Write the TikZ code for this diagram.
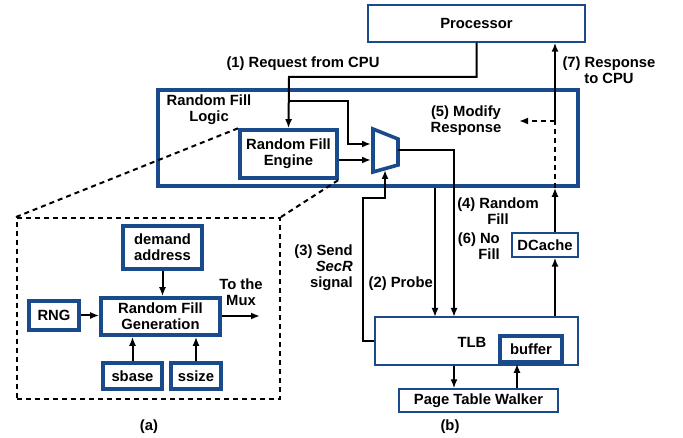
\documentclass[tikz,border=0pt]{standalone}
\usepackage{fontspec}
\setmainfont{Liberation Sans}
\usetikzlibrary{arrows.meta,positioning,calc}
\definecolor{boxblue}{RGB}{24,74,140}
\tikzset{
  blk/.style    = {draw=boxblue, line width=1.3pt, inner sep=0pt, align=center},
  blkthk/.style = {blk, line width=3.6pt},
  arr/.style    = {-{Latex[length=9pt,width=7pt]}, line width=2pt},
  dsh/.style    = {line width=2pt, dash pattern=on 5pt off 4pt},
  lbl/.style    = {inner sep=0pt, align=center},
}

\begin{document}
\begin{tikzpicture}[x=1pt, y=-1pt,
    every node/.style={font=\fontsize{14.8}{16}\selectfont\bfseries}]
  \useasboundingbox (0,0) rectangle (683,438);
  % system side
  \node[blk, minimum width=217, minimum height=37] (proc) at (476.5,23.5) {Processor};
  \node[blkthk, minimum width=420, minimum height=96] (rfl) at (368,138) {};
  \node[lbl] (rfltxt) at (209,110) {Random Fill\\Logic};
  \node[blkthk, minimum width=97, minimum height=48] (eng) at (288.5,154) {Random Fill\\Engine};
  \node[blk, minimum width=66, minimum height=24] (dcache) at (545,245) {DCache};
  \node[blk, minimum width=203, minimum height=48] (tlb) at (476.5,341) {};
  \node[lbl] (tlbtxt) at (472,342) {TLB};
  \node[blkthk, minimum width=62, minimum height=26] (buf) at (531,349) {buffer};
  \node[blk, minimum width=159, minimum height=23] (ptw) at (478.5,400.5) {Page Table Walker};
  % mux
  \coordinate (muxtl) at (373,129);
  \coordinate (muxbl) at (373,172);
  \coordinate (muxtr) at (398,139);
  \coordinate (muxbr) at (398,165);
  \draw[boxblue, line width=3.6pt, line join=miter] (muxtl) -- (muxtr) -- (muxbr) -- (muxbl) -- cycle;
  \coordinate (muxin1) at (371,144);
  \coordinate (muxin2) at (371,160);
  \coordinate (muxout) at (398,150);
  \coordinate (muxbot) at (385,170);
  % helper points
  \coordinate (req) at (289,77);
  \coordinate (reqb) at (289,101);
  \coordinate (bend1) at (348,101);
  \coordinate (fillin) at (454,317);
  \coordinate (probe) at (435,317);
  \coordinate (secr) at (363,198);
  \coordinate (rsp) at (555,0);
  \coordinate (mod) at (555,121);
  \coordinate (modtip) at (519,121);
  % connectors
  \draw[arr] (proc.south) |- (req) -- (eng.north);
  \draw[arr] (reqb) -- (bend1) |- (muxin1);
  \draw[arr] (eng.east |- muxin2) -- (muxin2);
  \draw[arr] (muxout) -| (fillin);
  \draw[arr] (rfl.south -| probe) -- (probe);
  \draw[arr] (tlb.west) -| (secr) -| (muxbot);
  \draw[arr] (tlb.north -| rsp) -- (dcache.south -| rsp);
  \draw[arr] (dcache.north -| rsp) -- (rfl.south -| rsp);
  \draw[dsh] (rfl.south -| rsp) -- (mod);
  \draw[dsh, -{Latex[length=9pt,width=7pt]}] (mod) -- (modtip);
  \draw[arr] (mod) -- (proc.south -| rsp);
  \draw[arr] (tlb.south -| fillin) -- (ptw.north -| fillin);
  \draw[arr] (ptw.north -| buf.south) ++(-14,0) coordinate (ptwup) -- (ptwup |- buf.south);
  % labels
  \node[lbl] (l1) at (303,64) {(1) Request from CPU};
  \node[lbl] (l5) at (466,121) {(5) Modify\\Response};
  \node[lbl] (l7) at (609,70) {(7) Response\\to CPU};
  \node[lbl] (l4) at (498,211) {(4) Random\\Fill};
  \node[lbl, align=right, anchor=east] (l6) at (500,246) {(6) No\\Fill};
  \node[lbl, align=right, anchor=east] (l3) at (353,268) {(3) Send\\\textit{SecR}\\signal};
  \node[lbl, anchor=east] (l2) at (433,284) {(2) Probe};
  % zoomed engine
  \node[draw, dsh, minimum width=263, minimum height=181, inner sep=0pt] (inset) at (148.5,308.5) {};
  \draw[dsh] (inset.north west) -- (eng.north west);
  \draw[dsh] (inset.north east) -- (eng.south east);
  \node[blkthk, minimum width=79, minimum height=43] (dem) at (162.5,247.5) {demand\\address};
  \node[blkthk, minimum width=119, minimum height=37] (gen) at (160.5,316.5) {Random Fill\\Generation};
  \node[blkthk, minimum width=50, minimum height=29] (rng) at (54,315.5) {RNG};
  \node[blkthk, minimum width=59, minimum height=26] (sbase) at (132.5,376) {sbase};
  \node[blkthk, minimum width=50, minimum height=26] (ssize) at (196,376) {ssize};
  \coordinate (muxto) at (260,316);
  \draw[arr] (rng.east) -- (gen.west |- rng.east);
  \draw[arr] (dem.south) -- (gen.north -| dem.south);
  \draw[arr] (sbase.north) -- (gen.south -| sbase.north);
  \draw[arr] (ssize.north) -- (gen.south -| ssize.north);
  \draw[arr] (gen.east |- muxto) -- (muxto);
  \node[lbl] (tomux) at (241,292) {To the\\Mux};
  % captions
  \node[lbl] (capa) at (149,427) {(a)};
  \node[lbl] (capb) at (450,427) {(b)};
\end{tikzpicture}
\end{document}
